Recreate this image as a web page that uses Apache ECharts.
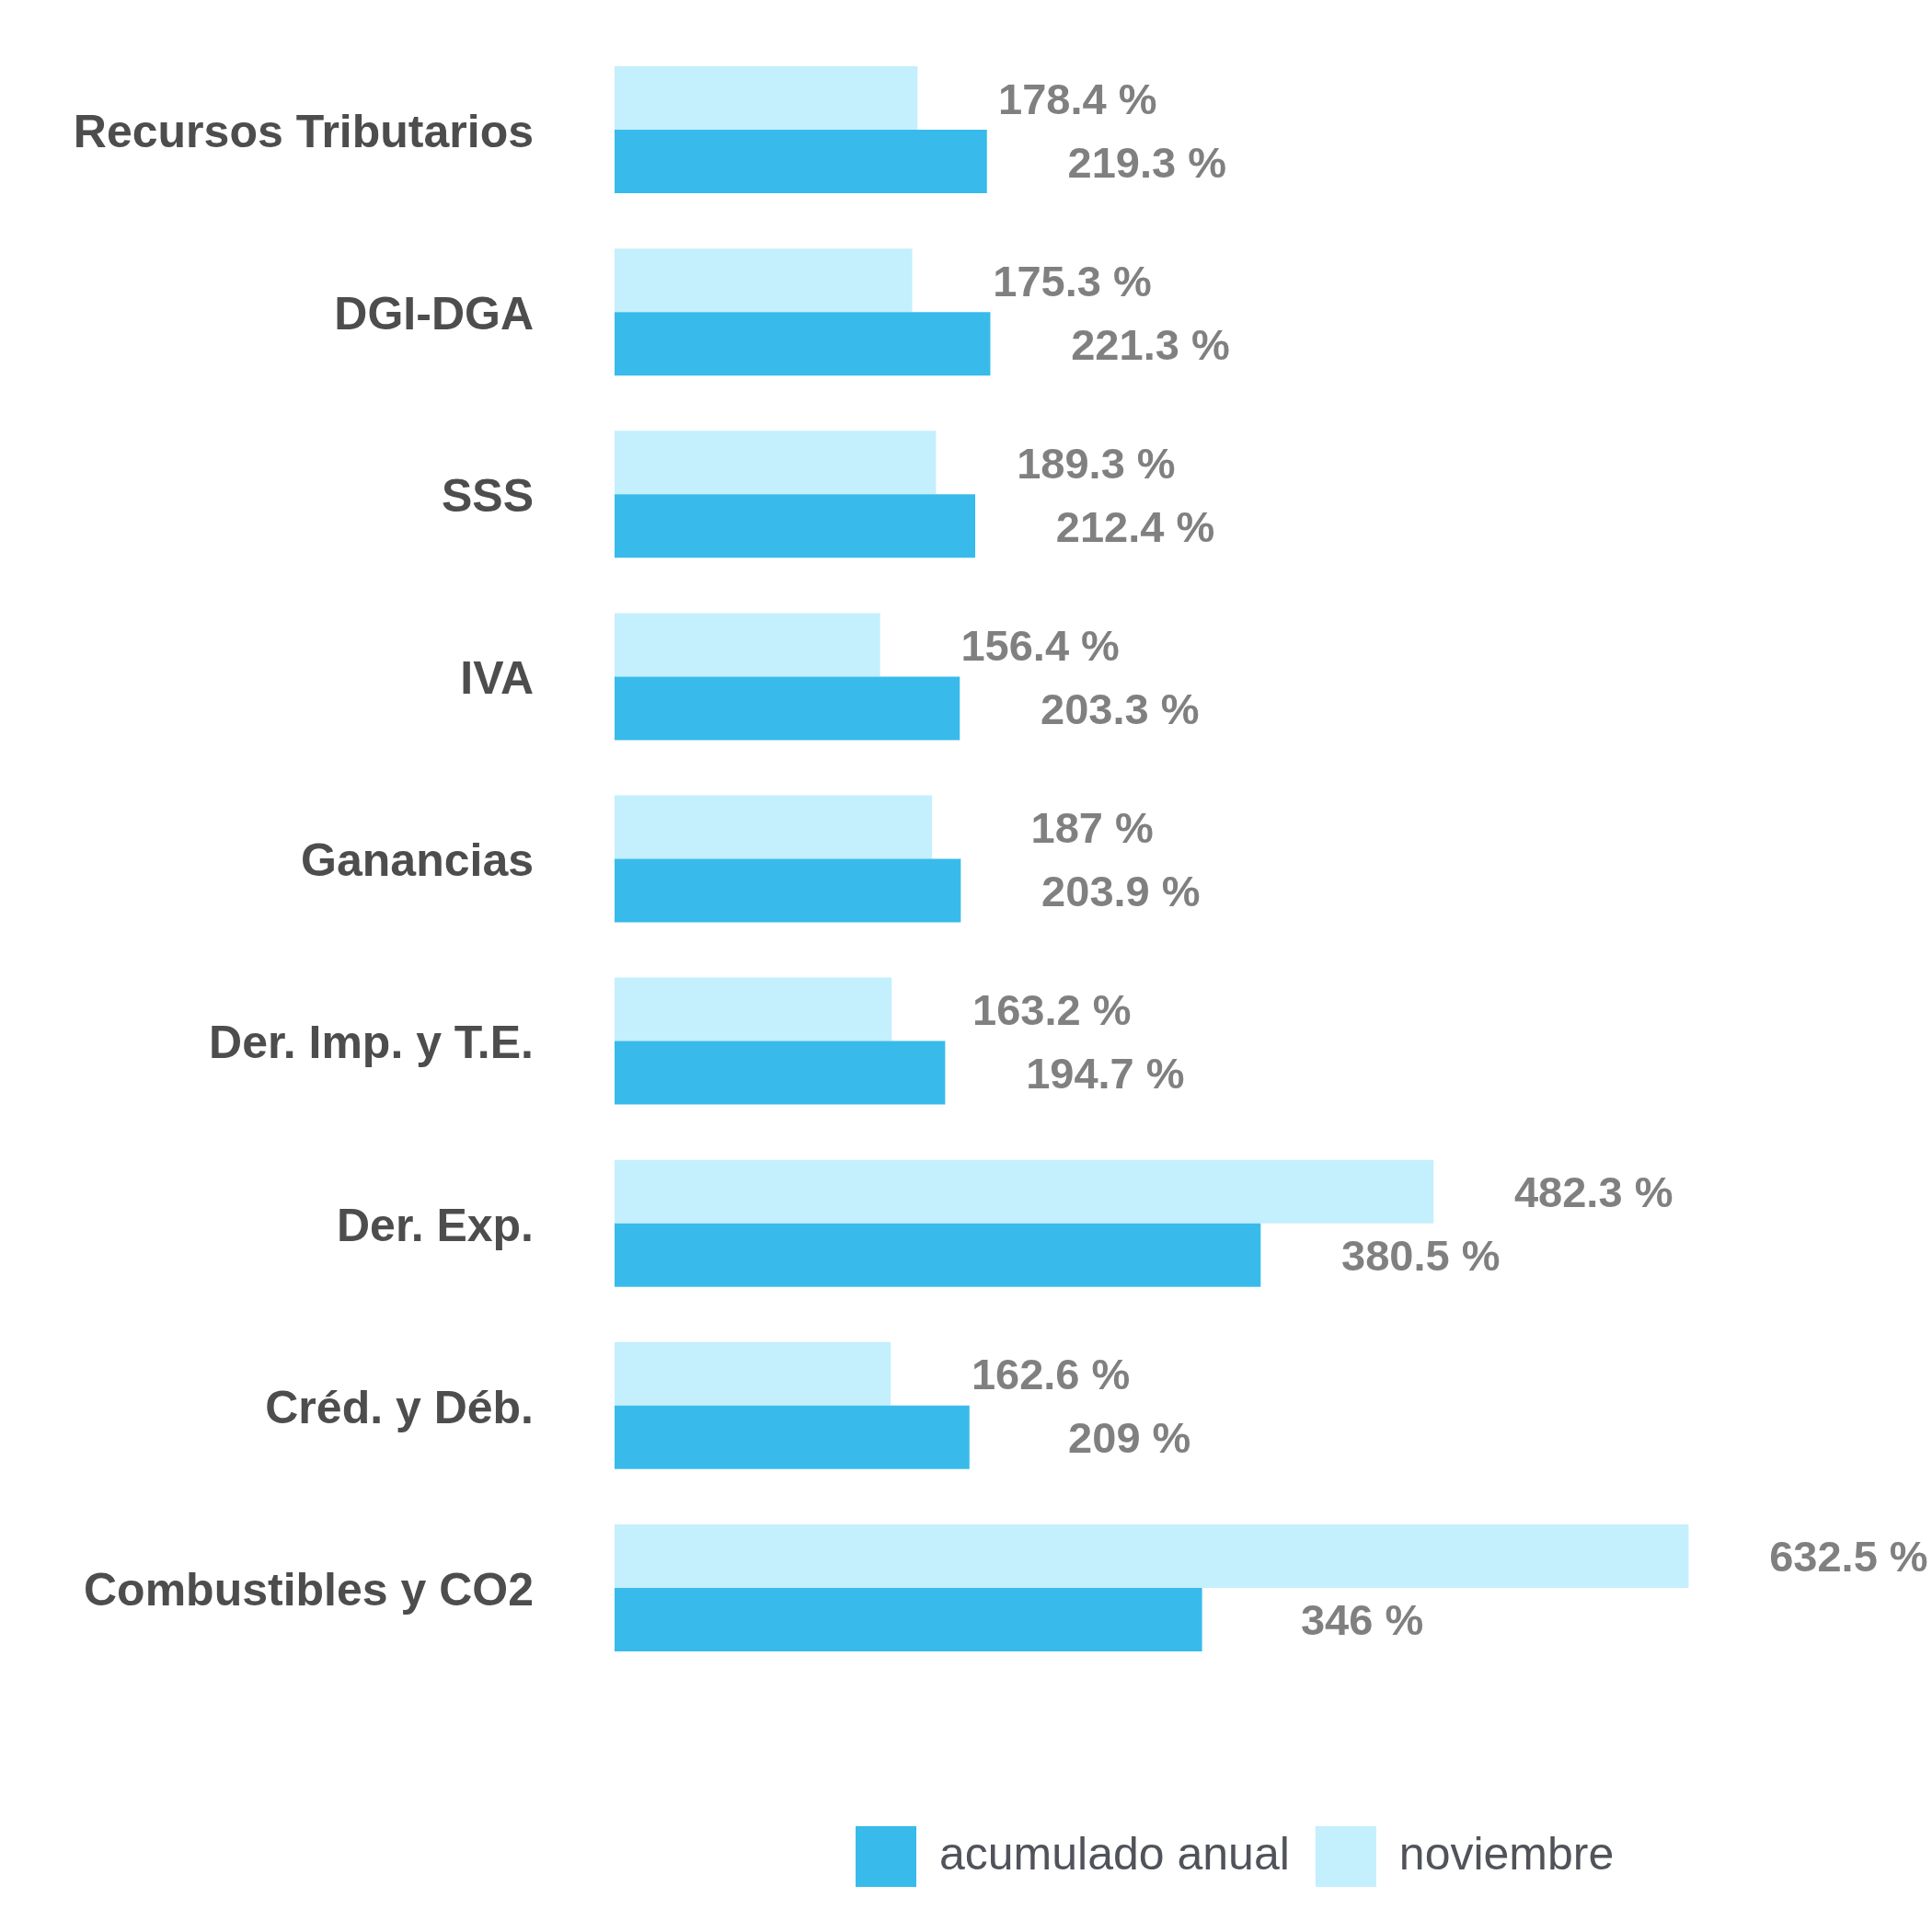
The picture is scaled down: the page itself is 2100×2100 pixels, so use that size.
<!DOCTYPE html>
<html>
<head>
<meta charset="utf-8">
<script src="https://cdn.jsdelivr.net/npm/echarts@6/dist/echarts.min.js"></script>
<style>html,body{margin:0;padding:0;background:#fff}#c{width:2100px;height:2100px}</style>
</head>
<body>
<div id="c"></div>
<script>
const categories = ["Recursos Tributarios","DGI-DGA","SSS","IVA","Ganancias","Der. Imp. y T.E.","Der. Exp.","Créd. y Déb.","Combustibles y CO2"];
const noviembre = [178.4, 175.3, 189.3, 156.4, 187, 163.2, 482.3, 162.6, 632.5];
const acumulado = [219.3, 221.3, 212.4, 203.3, 203.9, 194.7, 380.5, 209, 346];
const seriesNames = ["acumulado anual", "noviembre"];

const chart = echarts.init(document.getElementById('c'), null, {renderer: 'canvas'});
const font = '"Liberation Sans", Arial, sans-serif';
const lbl = {
  show: true, position: 'right', distance: 174, align: 'center', offset: [0, 4],
  formatter: p => p.value + ' %',
  color: '#808080', fontWeight: 'bold', fontSize: 47, fontFamily: font
};
chart.setOption({
  animation: false,
  backgroundColor: '#ffffff',
  grid: {left: 668, right: 140, top: 42, bottom: 275, containLabel: false},
  legend: {
    data: seriesNames,
    left: 925, top: 1980,
    itemWidth: 66, itemHeight: 66, itemGap: 28,
    icon: 'rect',
    textStyle: {fontSize: 50, color: '#50535a', fontFamily: font, padding: [0,0,0,20]}
  },
  xAxis: {type: 'value', min: 0, max: 700, show: false, splitLine: {show: false}},
  yAxis: {
    type: 'category', data: categories, inverse: true,
    axisLine: {show: false}, axisTick: {show: false},
    axisLabel: {margin: 88, fontSize: 50, fontWeight: 'bold', color: '#4d4d4d', fontFamily: font,
      formatter: v => '{a|' + v + '}',
      rich: {a: {fontSize: 50, fontWeight: 'bold', color: '#4d4d4d', fontFamily: font, padding: [10,0,0,0]}}}
  },
  series: [
    {name: seriesNames[1], type: 'bar', data: noviembre, barWidth: 69, barGap: '0%',
     itemStyle: {color: '#c4effd'}, label: lbl},
    {name: seriesNames[0], type: 'bar', data: acumulado, barWidth: 69, barGap: '0%',
     itemStyle: {color: '#38bbea'}, label: lbl}
  ]
});
</script>
</body>
</html>
